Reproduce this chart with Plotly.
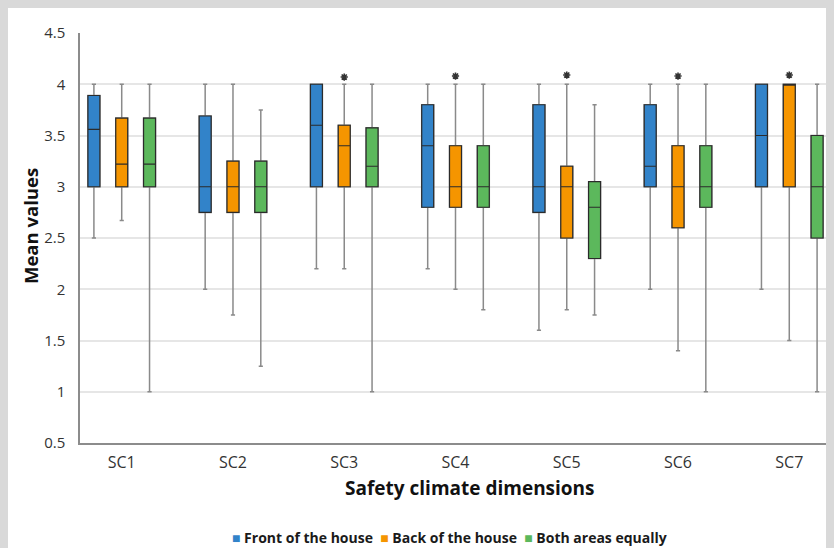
import plotly.graph_objects as go

categories = ["SC1", "SC2", "SC3", "SC4", "SC5", "SC6", "SC7"]
series_names = ["Front of the house", "Back of the house", "Both areas equally"]

front_min = [2.5, 2.0, 2.2, 2.2, 1.6, 2.0, 2.0]
front_q1 = [3.0, 2.75, 3.0, 2.8, 2.75, 3.0, 3.0]
front_med = [3.56, 3.0, 3.6, 3.4, 3.0, 3.2, 3.5]
front_q3 = [3.89, 3.69, 4.0, 3.8, 3.8, 3.8, 4.0]
front_max = [4.0, 4.0, 4.0, 4.0, 4.0, 4.0, 4.0]

back_min = [2.67, 1.75, 2.2, 2.0, 1.8, 1.4, 1.5]
back_q1 = [3.0, 2.75, 3.0, 2.8, 2.5, 2.6, 3.0]
back_med = [3.22, 3.0, 3.4, 3.0, 3.0, 3.0, 4.0]
back_q3 = [3.67, 3.25, 3.6, 3.4, 3.2, 3.4, 4.0]
back_max = [4.0, 4.0, 4.0, 4.0, 4.0, 4.0, 4.0]

both_min = [1.0, 1.25, 1.0, 1.8, 1.75, 1.0, 1.0]
both_q1 = [3.0, 2.75, 3.0, 2.8, 2.3, 2.8, 2.5]
both_med = [3.22, 3.0, 3.2, 3.0, 2.8, 3.0, 3.0]
both_q3 = [3.67, 3.25, 3.575, 3.4, 3.05, 3.4, 3.5]
both_max = [4.0, 3.75, 4.0, 4.0, 3.8, 4.0, 4.0]

star_categories = ["SC3", "SC4", "SC5", "SC6", "SC7"]
star_values = [4.07, 4.08, 4.09, 4.08, 4.09]

colors = ["#3283c9", "#f59500", "#5cb85c"]
y_ticks = [0.5, 1, 1.5, 2, 2.5, 3, 3.5, 4, 4.5]

stats = [
    (front_min, front_q1, front_med, front_q3, front_max),
    (back_min, back_q1, back_med, back_q3, back_max),
    (both_min, both_q1, both_med, both_q3, both_max),
]

fig = go.Figure()
for i, (name, col, (mn, q1, md, q3, mx)) in enumerate(zip(series_names, colors, stats)):
    # whiskers (gray)
    fig.add_trace(go.Box(
        x=categories, q1=q1, median=md, q3=q3, lowerfence=mn, upperfence=mx,
        name=name, offsetgroup=str(i), showlegend=False,
        line=dict(color="#8a8a8a", width=1.5), fillcolor="rgba(0,0,0,0)",
        whiskerwidth=0.35, boxpoints=False, hoverinfo="skip",
    ))
    # box body (dark outline)
    fig.add_trace(go.Box(
        x=categories, q1=q1, median=md, q3=q3, lowerfence=q1, upperfence=q3,
        name=name, offsetgroup=str(i), showlegend=False,
        line=dict(color="#2b2b2b", width=1.2), fillcolor=col,
        whiskerwidth=0, boxpoints=False,
    ))

fig.add_trace(go.Scatter(
    x=star_categories, y=star_values, mode="markers", showlegend=False,
    marker=dict(symbol="asterisk-open", size=6, color="#333333",
                line=dict(color="#333333", width=1.6)),
    hoverinfo="skip",
))

legend_text = "  ".join(
    f"<span style='color:{c}'>■</span> <b>{n}</b>" for n, c in zip(series_names, colors)
)

W, H = 826, 540
L, R, T, B = 72, 3, 25, 105
pw, ph = W - L - R, H - T - B


def px(x):
    return (x - 8 - L) / pw


def py(y):
    return (H - B - (y - 8)) / ph


fig.update_layout(
    width=W, height=H,
    margin=dict(l=L, r=R, t=T, b=B),
    paper_bgcolor="white", plot_bgcolor="white",
    boxmode="group", boxgap=0.25, boxgroupgap=0.57,
    font=dict(family="Open Sans", color="#333333"),
    showlegend=False,
    annotations=[
        dict(text="<b>Safety climate dimensions</b>", xref="paper", yref="paper",
             x=px(470), y=py(488), showarrow=False,
             xanchor="center", yanchor="middle",
             font=dict(family="Open Sans", size=19, color="#111111")),
        dict(text="<b>Mean values</b>", xref="paper", yref="paper",
             x=px(30), y=py(226), showarrow=False, textangle=-90,
             xanchor="center", yanchor="middle",
             font=dict(family="Open Sans", size=18.5, color="#111111")),
        dict(text=legend_text, xref="paper", yref="paper",
             x=px(449), y=py(537), showarrow=False,
             xanchor="center", yanchor="middle",
             font=dict(family="Open Sans", size=14, color="#1a1a1a")),
    ],
)

fig.update_xaxes(
    type="category", range=[-0.375, 6.375],
    showline=True, linecolor="#8c8c8c", linewidth=2,
    showgrid=False, ticks="", tickfont=dict(size=16, color="#333333"),
    ticklabelstandoff=4,
)
fig.update_yaxes(
    range=[0.5, 4.5], tickvals=y_ticks, ticktext=[f"{v:g}" for v in y_ticks],
    showline=True, linecolor="#8c8c8c", linewidth=1.5,
    showgrid=True, gridcolor="#e6e6e6", gridwidth=1.5, zeroline=False,
    ticks="", tickfont=dict(size=15, color="#333333"), ticklabelstandoff=10,
)

fig.write_html("out.html",
               post_script="document.body.style.background='#d9d9d9';")
